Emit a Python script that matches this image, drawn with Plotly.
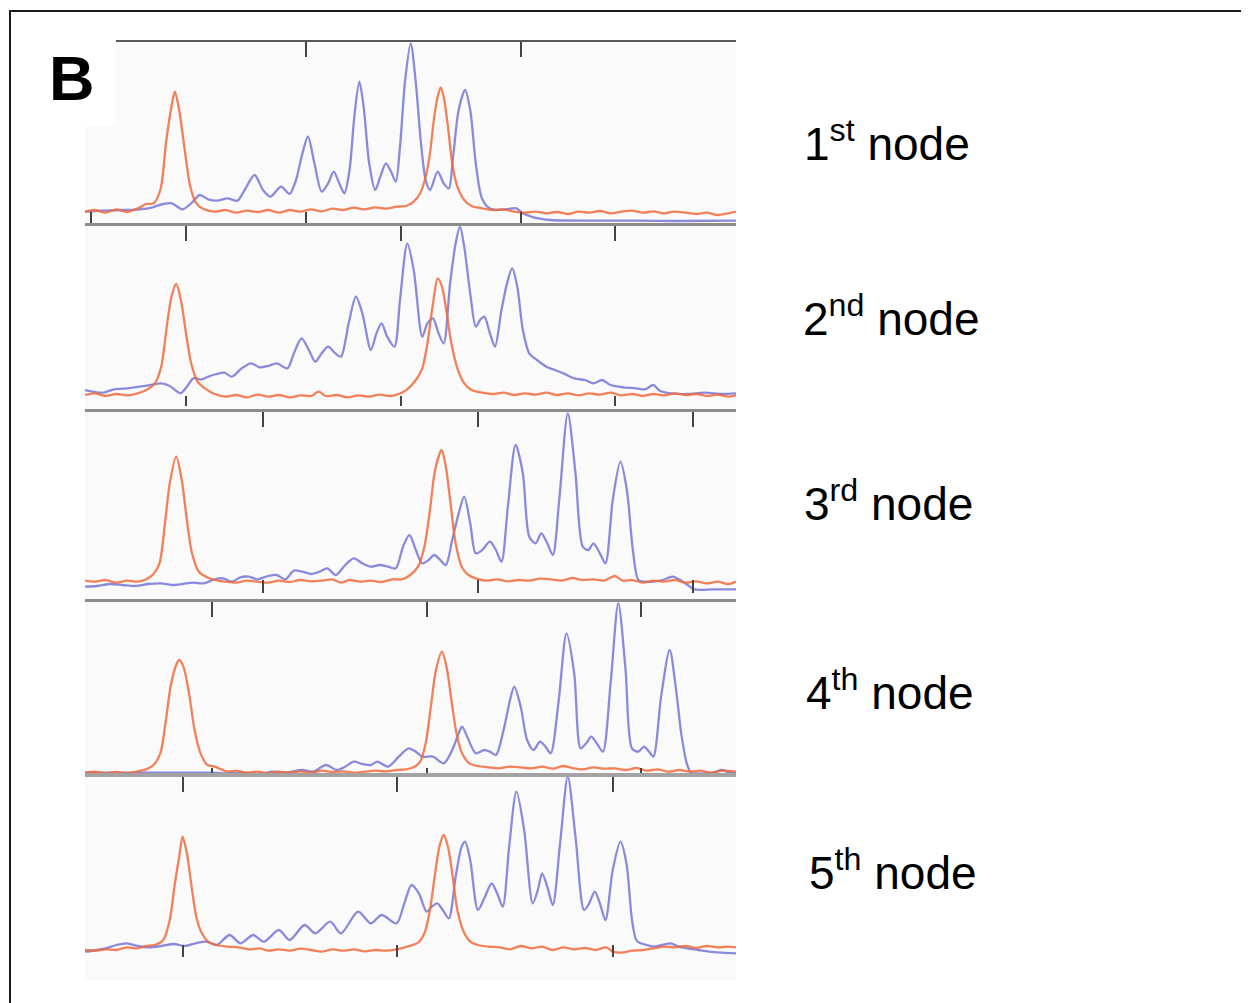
import plotly.graph_objects as go

# the page body adds an 8px margin, so the figure is drawn 8px smaller and offset
OFF = 8
W, H = 1249 - OFF, 1003 - OFF

# ---------------- data: (scan, intensity) ----------------
P1_ORANGE = [(12,55),(35,60),(60,52),(85,62),(110,54),(135,65),(155,78),(172,80),(188,120),(202,270),
 (214,370),(222,415),(232,360),(245,240),(258,130),(272,80),(290,62),(315,55),(340,60),(365,52),
 (390,58),(415,54),(440,60),(465,52),(490,60),(515,55),(540,62),(565,56),(590,64),(615,60),
 (640,67),(665,62),(690,68),(715,64),(740,70),(762,72),(780,85),(795,110),(808,160),(818,230),
 (828,340),(836,400),(843,428),(850,400),(860,310),(870,200),(882,130),(898,90),(915,72),(940,65),
 (965,60),(990,62),(1015,55),(1040,52),(1065,55),(1090,50),(1115,54),(1140,48),(1165,55),(1190,52),
 (1215,57),(1240,50),(1265,55),(1290,58),(1315,52),(1340,56),(1365,50),(1390,55),(1415,52),(1440,48),
 (1465,52),(1490,45),(1515,50),(1533,55)]
P1_BLUE = [(12,55),(50,58),(100,60),(140,62),(170,68),(195,78),(215,80),(240,62),(260,80),(280,105),
 (300,92),(320,88),(345,95),(368,88),(385,120),(408,165),(428,120),(445,100),(470,130),(490,108),
 (505,150),(520,230),(533,280),(548,200),(565,115),(580,140),(593,175),(606,140),(618,110),(630,180),
 (642,350),(653,445),(663,370),(676,200),(690,120),(702,160),(715,200),(727,175),(738,145),(748,250),
 (760,450),(773,560),(785,440),(797,260),(808,150),(818,120),(836,175),(850,140),(862,125),(872,220),
 (885,360),(900,420),(912,360),(925,200),(938,100),(952,70),(970,60),(995,62),(1020,65),(1035,50),
 (1060,38),(1100,30),(1200,28),(1300,28),(1400,27),(1533,28)]

P2_ORANGE = [(12,45),(35,50),(60,42),(85,48),(110,44),(135,50),(155,60),(175,80),(190,130),(203,250),
 (214,340),(225,378),(236,330),(248,230),(260,140),(275,85),(292,65),(315,48),(340,40),(365,45),
 (390,38),(415,46),(440,40),(465,45),(490,38),(515,44),(540,42),(558,55),(575,42),(600,45),
 (625,38),(650,44),(675,40),(700,46),(725,42),(745,48),(765,62),(785,90),(800,125),(812,200),
 (824,310),(836,395),(846,370),(856,300),(868,200),(882,125),(898,80),(915,60),(940,52),(965,48),
 (990,52),(1015,45),(1040,50),(1065,46),(1090,52),(1115,45),(1140,50),(1165,44),(1190,50),(1215,46),
 (1240,52),(1265,44),(1290,48),(1315,42),(1340,48),(1365,44),(1390,50),(1415,45),(1440,48),(1465,42),
 (1490,46),(1515,40),(1533,44)]
P2_BLUE = [(12,60),(30,55),(55,52),(80,62),(110,65),(140,70),(165,75),(190,80),(210,72),(235,50),
 (250,70),(265,95),(285,92),(300,100),(320,108),(338,112),(355,100),(378,125),(400,140),(420,128),
 (440,132),(460,140),(485,125),(500,170),(518,215),(535,180),(550,145),(565,170),(580,190),(597,170),
 (610,160),(628,260),(645,340),(660,290),(680,180),(693,230),(705,260),(718,220),(735,190),(748,330),
 (765,500),(780,420),(800,220),(812,260),(825,275),(838,230),(850,200),(865,380),(878,500),(888,550),
 (898,490),(912,350),(925,250),(935,270),(945,280),(958,230),(970,190),(985,300),(998,380),(1010,425),
 (1022,370),(1035,240),(1050,170),(1068,150),(1090,130),(1110,120),(1130,110),(1155,95),(1180,90),(1200,80),
 (1220,90),(1240,75),(1270,68),(1300,65),(1320,62),(1340,75),(1355,58),(1380,50),(1420,48),(1460,52),
 (1500,48),(1533,50)]

P3_ORANGE = [(12,58),(35,55),(60,60),(85,52),(110,58),(135,55),(155,62),(172,78),(186,110),(198,220),
 (210,350),(225,430),(238,360),(250,240),(262,140),(278,85),(295,70),(315,60),(340,55),(365,52),
 (390,58),(415,55),(440,52),(465,58),(490,54),(515,60),(540,56),(565,58),(590,62),(610,52),
 (630,60),(655,55),(680,58),(705,54),(730,62),(752,62),(772,75),(790,100),(805,160),(818,270),
 (830,390),(845,450),(855,400),(866,290),(878,170),(892,100),(908,75),(925,65),(950,58),(975,62),
 (1000,56),(1025,60),(1050,58),(1075,64),(1100,62),(1125,58),(1150,66),(1175,60),(1200,62),(1225,58),
 (1250,72),(1268,58),(1290,60),(1315,52),(1340,58),(1365,55),(1390,60),(1415,52),(1440,56),(1465,50),
 (1490,55),(1515,48),(1533,55)]
P3_BLUE = [(12,40),(40,42),(70,48),(100,45),(130,42),(160,48),(190,50),(215,45),(240,48),(265,52),
 (290,50),(315,62),(335,65),(355,55),(375,68),(395,70),(415,62),(440,72),(460,75),(480,62),
 (500,88),(520,85),(540,78),(560,85),(578,95),(598,75),(620,105),(640,125),(660,110),(680,100),
 (700,105),(720,100),(738,95),(755,160),(770,195),(785,150),(800,110),(815,120),(828,135),(842,120),
 (855,105),(870,180),(885,260),(898,310),(912,230),(925,140),(940,150),(958,175),(972,150),(985,115),
 (1000,280),(1018,465),(1035,380),(1050,190),(1065,170),(1078,200),(1092,170),(1105,135),(1120,300),(1140,560),
 (1158,380),(1175,160),(1188,150),(1200,170),(1215,140),(1228,110),(1245,300),(1263,415),(1278,330),(1292,150),
 (1305,60),(1320,55),(1340,55),(1362,60),(1385,70),(1400,62),(1420,45),(1435,32),(1480,32),(1533,32)]

P4_ORANGE = [(12,52),(35,55),(60,50),(85,54),(110,50),(135,56),(155,62),(172,75),(188,110),(200,200),
 (212,310),(225,375),(232,390),(242,370),(255,290),(268,180),(282,110),(298,75),(315,70),(330,62),
 (345,55),(365,58),(390,52),(415,55),(440,50),(465,55),(490,52),(515,56),(540,52),(565,58),
 (590,54),(615,56),(640,52),(665,55),(690,58),(715,56),(740,60),(762,62),(780,68),(795,85),
 (808,140),(820,250),(832,360),(846,415),(858,360),(868,270),(880,170),(893,110),(910,80),(930,72),
 (955,68),(980,65),(1005,70),(1030,68),(1055,65),(1080,70),(1105,64),(1130,72),(1150,66),(1175,62),
 (1200,68),(1225,64),(1250,65),(1275,60),(1300,66),(1325,58),(1350,62),(1375,55),(1400,60),(1425,55),
 (1450,58),(1475,52),(1500,58),(1533,55)]
P4_BLUE = [(12,52),(100,52),(200,52),(300,52),(340,50),(380,52),(420,48),(450,55),(480,52),(520,60),
 (545,55),(575,75),(600,60),(620,70),(640,85),(660,78),(680,75),(695,85),(720,70),(745,100),
 (768,125),(785,115),(800,100),(825,100),(850,80),(870,120),(885,170),(893,190),(905,160),(925,110),
 (945,120),(958,115),(972,105),(990,180),(1005,270),(1015,310),(1030,250),(1045,150),(1060,120),(1075,145),
 (1088,130),(1100,110),(1118,260),(1137,470),(1155,350),(1170,125),(1183,140),(1195,160),(1210,135),(1222,115),
 (1240,320),(1258,560),(1275,360),(1290,125),(1305,115),(1318,130),(1330,115),(1340,100),(1358,280),(1378,420),
 (1393,300),(1405,170),(1418,80),(1428,52),(1450,50),(1480,52),(1500,60),(1515,54),(1533,52)]

P5_ORANGE = [(12,60),(35,58),(60,62),(85,60),(110,68),(135,65),(155,72),(175,75),(195,90),(210,150),
 (222,260),(232,340),(240,400),(250,350),(260,260),(272,160),(285,110),(300,85),(320,75),(345,70),
 (370,68),(395,62),(420,65),(440,58),(465,62),(490,58),(515,64),(540,60),(565,55),(590,62),
 (615,58),(640,62),(665,56),(690,60),(715,58),(740,62),(765,70),(790,82),(805,110),(818,180),
 (830,290),(840,370),(850,405),(860,370),(870,290),(882,180),(895,120),(912,85),(930,75),(955,70),
 (980,68),(1005,62),(1030,72),(1055,65),(1080,70),(1105,60),(1130,68),(1155,62),(1180,66),(1205,60),
 (1230,68),(1245,55),(1265,52),(1290,58),(1315,60),(1340,65),(1365,70),(1390,68),(1415,72),(1440,66),
 (1465,72),(1490,68),(1515,70),(1533,68)]
P5_BLUE = [(12,55),(40,60),(60,65),(85,75),(110,80),(135,72),(160,68),(190,72),(220,78),(245,72),
 (270,80),(295,85),(320,75),(350,105),(375,80),(405,105),(430,85),(465,120),(490,90),(525,135),
 (550,110),(585,145),(610,110),(650,175),(680,140),(705,165),(740,140),(758,200),(775,255),(792,230),
 (810,175),(822,190),(835,200),(848,180),(862,155),(878,280),(892,370),(900,385),(912,330),(930,180),
 (945,215),(962,260),(975,230),(988,190),(1003,370),(1020,535),(1038,420),(1058,200),(1070,240),(1080,290),
 (1092,250),(1105,195),(1122,380),(1140,580),(1158,400),(1178,180),(1190,200),(1203,235),(1215,200),(1228,150),
 (1245,300),(1263,385),(1277,320),(1290,150),(1300,90),(1310,80),(1325,75),(1340,70),(1360,75),(1380,80),
 (1400,70),(1420,65),(1445,60),(1470,55),(1500,52),(1533,50)]

BLUE_TRACES = [P1_BLUE, P2_BLUE, P3_BLUE, P4_BLUE, P5_BLUE]
ORANGE_TRACES = [P1_ORANGE, P2_ORANGE, P3_ORANGE, P4_ORANGE, P5_ORANGE]
NODE_LABELS = ["1<sup>st</sup> node", "2<sup>nd</sup> node", "3<sup>rd</sup> node",
               "4<sup>th</sup> node", "5<sup>th</sup> node"]
TICK_SCANS = [[25, 528, 1030, 1533], [248, 750, 1250], [428, 930, 1433],
              [308, 810, 1312], [240, 742, 1245]]
Y_RANGES = [[15, 564], [3, 552], [0, 564], [42, 564], [-30, 579]]
SCAN_RANGE = [12, 1533]

# ---------------- layout geometry (page pixels) ----------------
PANEL_X = (85, 736)
PANEL_TOP = [42, 226, 412, 602, 777]
PANEL_BOT = [225, 409, 600, 776, 980]
BOTTOM_TICK_POS = [223, 406, 593, 776, 957]
BOTTOM_TICK_LEN = [11, 10, 13, 8, 12]
TOP_LINE_COLOR = ["#5a5a5a", "#8c8c8c", "#8c8c8c", "#8c8c8c", "#a3a3a3"]
TOP_LINE_WIDTH = [2, 3, 3, 3, 4]
LABEL_POS = [(802, 141), (801, 316), (802, 501), (804, 690), (807, 870)]

BLUE = "rgba(110,110,212,0.8)"
ORANGE = "rgba(240,106,60,0.85)"

def px(x):
    return (x - OFF) / W

def py(y):
    return 1 - (y - OFF) / H

fig = go.Figure()
layout = dict(
    width=W, height=H, margin=dict(l=0, r=0, t=0, b=0),
    paper_bgcolor="white", plot_bgcolor="rgba(0,0,0,0)", showlegend=False,
)

for k in range(5):
    n = k + 1
    xs = "" if n == 1 else str(n)
    xb = "x" + str(n + 5)
    for data, col in ((BLUE_TRACES[k], BLUE), (ORANGE_TRACES[k], ORANGE)):
        fig.add_trace(go.Scatter(
            x=[p[0] for p in data], y=[p[1] for p in data],
            mode="lines", line=dict(color=col, width=2.3, shape="spline", smoothing=0.8),
            xaxis="x" + xs, yaxis="y" + xs, hoverinfo="skip"))
    # invisible carrier so the baseline tick axis is drawn
    fig.add_trace(go.Scatter(x=[SCAN_RANGE[0]], y=[Y_RANGES[k][0]], mode="markers",
                             marker=dict(opacity=0), xaxis=xb, yaxis="y" + xs,
                             hoverinfo="skip"))
    dom_x = [px(PANEL_X[0]), px(PANEL_X[1])]
    layout["xaxis" + xs] = dict(
        domain=dom_x, range=SCAN_RANGE, anchor="y" + xs, side="top",
        showline=True, linecolor=TOP_LINE_COLOR[k], linewidth=TOP_LINE_WIDTH[k],
        ticks="inside", ticklen=15, tickwidth=2, tickcolor="#444444",
        tickvals=TICK_SCANS[k], showticklabels=False, showgrid=False, zeroline=False,
        fixedrange=True)
    layout["yaxis" + xs] = dict(
        domain=[py(PANEL_BOT[k]), py(PANEL_TOP[k])], range=Y_RANGES[k], anchor="x" + xs,
        visible=False, fixedrange=True)
    # bottom tick marks on the baseline
    layout["xaxis" + str(n + 5)] = dict(
        domain=dom_x, range=SCAN_RANGE, overlaying="x" + xs, anchor="free",
        position=py(BOTTOM_TICK_POS[k]), side="bottom", showline=False,
        ticks="inside", ticklen=BOTTOM_TICK_LEN[k], tickwidth=2, tickcolor="#444444",
        tickvals=TICK_SCANS[k], showticklabels=False, showgrid=False, zeroline=False,
        fixedrange=True)

shapes = [
    # panel background
    dict(type="rect", xref="paper", yref="paper", layer="below",
         x0=px(PANEL_X[0]), x1=px(PANEL_X[1]), y0=py(PANEL_BOT[4]), y1=py(PANEL_TOP[0]),
         fillcolor="#fafafa", line=dict(width=0)),
    # white box behind panel letter
    dict(type="rect", xref="paper", yref="paper", layer="above",
         x0=px(11), x1=px(116), y0=py(126), y1=py(13),
         fillcolor="white", line=dict(width=0)),
    # outer frame
    dict(type="rect", xref="paper", yref="paper", layer="above",
         x0=px(10), x1=px(1247), y0=py(1015), y1=py(11),
         line=dict(color="#1a1a1a", width=2)),
]
layout["shapes"] = shapes

annotations = [dict(text="<b>B</b>", x=px(72), y=py(78), xref="paper", yref="paper",
                    showarrow=False, xanchor="center", yanchor="middle",
                    font=dict(family="Liberation Sans, Arial, sans-serif", size=63, color="black"))]
for (lx, ly), lab in zip(LABEL_POS, NODE_LABELS):
    annotations.append(dict(text=lab, x=px(lx), y=py(ly), xref="paper", yref="paper",
                            showarrow=False, xanchor="left", yanchor="middle",
                            font=dict(family="Liberation Sans, Arial, sans-serif", size=46,
                                      color="black")))
layout["annotations"] = annotations

fig.update_layout(**layout)
fig.write_html("out.html")
